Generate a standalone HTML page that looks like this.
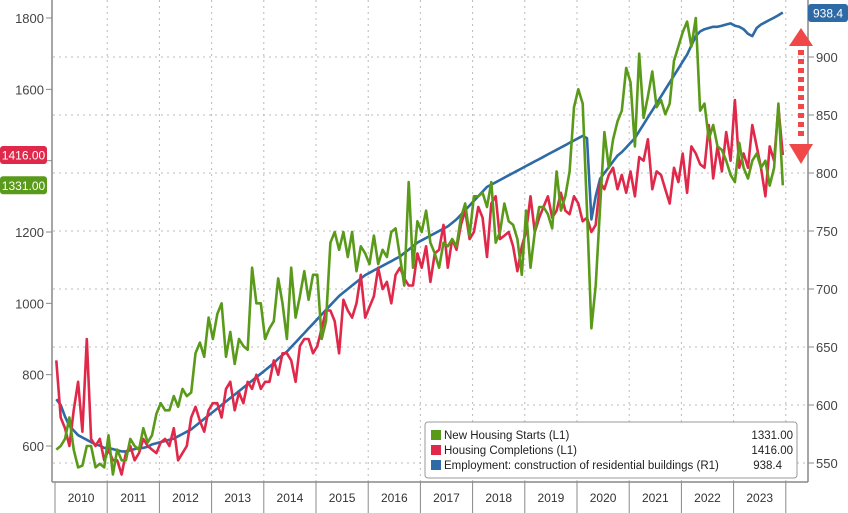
<!DOCTYPE html>
<html><head><meta charset="utf-8"><style>
html,body{margin:0;padding:0;background:#fff;}
svg{display:block;font-family:"Liberation Sans",sans-serif;}
</style></head><body>
<svg id="chart" width="848" height="513" viewBox="0 0 848 513"></svg>
<script>
const years = ["2010","2011","2012","2013","2014","2015","2016","2017","2018","2019","2020","2021","2022","2023"];
const leftTicks = [600,800,1000,1200,1400,1600,1800];
const leftTickLabels = ["600","800","1000","1200","","1600","1800"];
const rightTicks = [550,600,650,700,750,800,850,900];
const starts = [
590,600,620,680,590,540,545,600,600,540,550,540,
630,520,590,560,560,620,600,590,650,610,630,690,
720,700,700,740,710,760,740,750,860,890,850,960,
900,970,1000,850,920,830,900,880,870,1100,1000,1000,
900,930,950,1070,1000,900,1100,960,1020,1090,1010,1080,
1080,900,950,1170,1200,1150,1200,1130,1200,1090,1160,1140,
1110,1190,1110,1150,1130,1200,1210,1130,1050,1340,1100,1230,
1200,1260,1170,1140,1100,1170,1160,1180,1160,1240,1280,1190,
1300,1300,1310,1270,1340,1170,1200,1280,1230,1220,1180,1080,
1260,1100,1200,1270,1270,1250,1210,1370,1260,1300,1370,1550,
1600,1560,1260,930,1050,1270,1480,1380,1460,1510,1540,1660,
1620,1440,1700,1520,1580,1650,1550,1570,1530,1560,1680,1720,
1760,1790,1720,1800,1540,1560,1460,1500,1440,1430,1400,1360,
1340,1450,1380,1350,1400,1420,1380,1400,1330,1380,1560,1331];
const completions = [
840,680,650,600,700,780,640,900,620,600,620,560,
590,560,560,520,580,600,560,580,620,600,590,580,
610,620,600,650,560,580,600,680,710,670,640,700,
720,720,680,760,780,700,750,720,780,760,800,760,
780,780,840,800,860,860,840,780,880,900,900,860,
880,930,980,980,950,860,1010,980,960,1000,1080,960,
990,1020,1100,1040,1060,1000,1080,1100,1070,1050,1050,1140,
1100,1160,1060,1140,1150,1220,1100,1180,1150,1220,1260,1180,
1200,1270,1240,1130,1280,1300,1180,1190,1200,1160,1090,1160,
1200,1300,1200,1240,1270,1300,1240,1260,1310,1260,1250,1300,
1280,1230,1240,1200,1220,1340,1320,1360,1380,1320,1360,1310,
1370,1300,1410,1400,1460,1320,1370,1360,1320,1280,1380,1340,
1420,1310,1440,1420,1390,1380,1500,1350,1440,1370,1480,1400,
1570,1380,1420,1380,1500,1440,1380,1300,1440,1400,1550,1416];
const employment = [
605,600,590,582,578,574,572,570,568,566,565,563,
563,562,561,560,560,561,562,563,563,564,566,567,
568,569,570,571,573,575,577,579,582,585,588,591,
594,597,600,603,606,609,612,615,618,621,624,627,
630,633,636,640,643,646,650,654,658,662,666,670,
674,678,682,686,690,694,697,700,703,706,709,712,
714,716,718,720,722,724,726,728,731,734,737,740,
742,744,746,748,750,752,754,757,760,764,768,772,
776,780,784,788,790,792,794,796,798,800,802,804,
806,808,810,812,814,816,818,820,822,824,826,828,
830,832,830,760,780,795,800,805,810,815,818,822,
826,830,836,842,848,854,860,866,872,878,884,890,
896,902,910,918,922,924,925,926,926,927,928,929,
927,926,924,920,918,925,928,930,932,934,936,938.4];

const NS="http://www.w3.org/2000/svg";
const svg=document.getElementById('chart');
function mk(tag,attrs,parent){const e=document.createElementNS(NS,tag);for(const k in attrs)e.setAttribute(k,attrs[k]);(parent||svg).appendChild(e);return e;}
const yearStart=55, yearW=52.2;
const yL=v=>446-(v-600)*428/1200;
const yR=v=>173-(v-800)*1.16;
const xIdx=i=>yearStart+(i+0.3)*yearW/12;

// grid
rightTicks.forEach(t=>{const l=mk('line',{x1:53,x2:808,y1:yR(t),y2:yR(t),stroke:'#bbb','stroke-dasharray':'2,4'});

});
for(let i=1;i<=14;i++){const x=yearStart+i*yearW;const l=mk('line',{x1:x,x2:x,y1:0,y2:482,stroke:'#bbb','stroke-dasharray':'2,4'});

}
// axes
mk('line',{x1:52,x2:52,y1:0,y2:482,stroke:'#888','stroke-width':1.5,});
mk('line',{x1:808,x2:808,y1:0,y2:482,stroke:'#888','stroke-width':1.5,});
mk('line',{x1:52,x2:808,y1:482,y2:482,stroke:'#888','stroke-width':1.5,});
leftTicks.forEach((t,i)=>{mk('line',{x1:46,x2:52,y1:yL(t),y2:yL(t),stroke:'#888'});
if(leftTickLabels[i]){const tx=mk('text',{x:44,y:yL(t)+5,'text-anchor':'end','font-size':13,fill:'#444'});tx.textContent=leftTickLabels[i];

}});
rightTicks.forEach(t=>{mk('line',{x1:808,x2:814,y1:yR(t),y2:yR(t),stroke:'#888'});
const tx=mk('text',{x:816,y:yR(t)+5,'font-size':13,fill:'#444'});tx.textContent=t;

});
// year band
for(let i=0;i<=14;i++){const x=yearStart+i*yearW;mk('line',{x1:x,x2:x,y1:482,y2:513,stroke:'#888'});}
years.forEach((yr,i)=>{const tx=mk('text',{x:yearStart+(i+0.5)*yearW,y:502,'text-anchor':'middle','font-size':12,fill:'#333'});tx.textContent=yr;

});
// series
function series(arr,yf,color,name){const d=arr.map((v,i)=>(i?'L':'M')+xIdx(i).toFixed(1)+','+yf(v).toFixed(1)).join('');
const p=mk('path',{d:d,fill:'none',stroke:color,'stroke-width':2.6,'stroke-linejoin':'round'});

}
series(employment,yR,'#2e6aa5','employment-line');
series(completions,yL,'#e0284a','completions-line');
series(starts,yL,'#5a9a1a','starts-line');
// value tags
function tag(x,y,w,txt,color,name){const g=mk('g',{});
mk('rect',{x:x,y:y-9,width:w,height:18,rx:3,fill:color},g);const t=mk('text',{x:x+w/2,y:y+4.5,'text-anchor':'middle','font-size':12,fill:'#fff'},g);t.textContent=txt;}
tag(0,yL(1416),47,'1416.00','#e0284a','completions-tag');
tag(0,yL(1331),47,'1331.00','#5a9a1a','starts-tag');
tag(808,13,40,'938.4','#2e6aa5','employment-tag');
// arrow
const ag=mk('g',{});
mk('polygon',{points:'789,46 801,28 813,46',fill:'#f04848'},ag);
mk('line',{x1:801,x2:801,y1:50,y2:140,stroke:'#f04848','stroke-width':6,'stroke-dasharray':'5,4'},ag);
mk('polygon',{points:'789,144 801,164 813,144',fill:'#f04848'},ag);
// legend
const lg=mk('g',{});
mk('rect',{x:425,y:422,width:372,height:56,fill:'#fff',stroke:'#999',rx:3},lg);
const items=[['New Housing Starts (L1)','1331.00','#5a9a1a'],['Housing Completions (L1)','1416.00','#e0284a'],['Employment: construction of residential buildings (R1)','938.4','#2e6aa5']];
items.forEach((it,i)=>{const y=435+i*15;const e=mk('g',{},lg);
mk('rect',{x:431,y:y-5,width:10,height:10,fill:it[2]},e);
const t=mk('text',{x:444,y:y+4,'font-size':11.5,fill:'#222'},e);t.textContent=it[0];
const v=mk('text',{x:i==2?782:793,y:y+4,'font-size':11.5,fill:'#222','text-anchor':'end'},e);v.textContent=it[1];});
</script>
</body></html>
